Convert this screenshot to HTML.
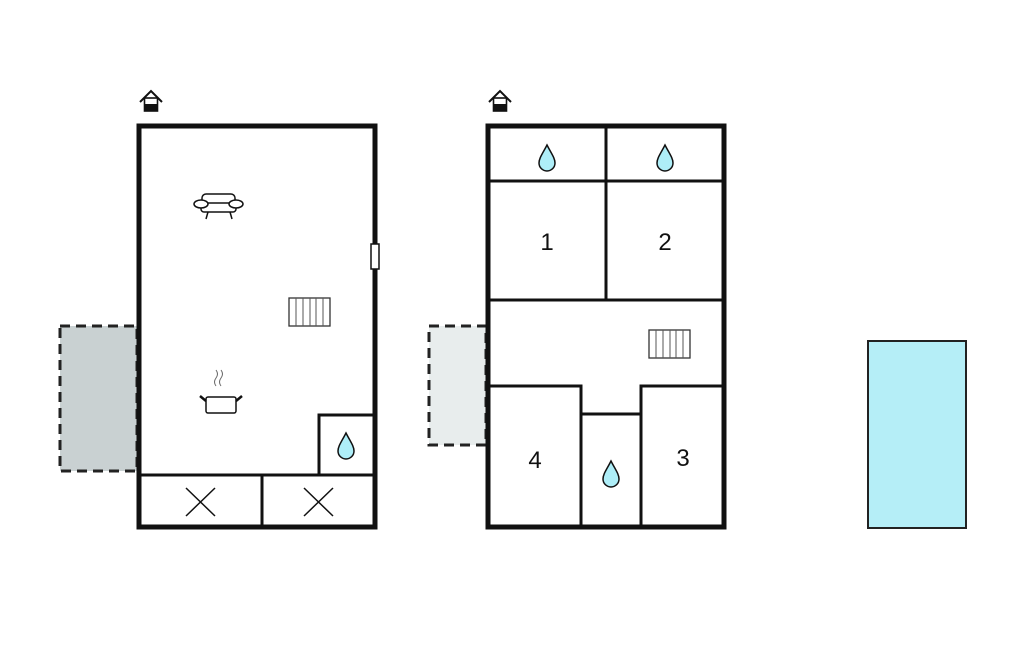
<!DOCTYPE html>
<html><head><style>html,body{margin:0;padding:0;background:#fff;}svg{display:block}</style></head>
<body>
<svg width="1024" height="652" viewBox="0 0 1024 652" xmlns="http://www.w3.org/2000/svg" font-family="Liberation Sans, sans-serif">
<defs>
<g id="drop"><path d="M0,-13 C4,-5 8,0 8,5 A8,8 0 0 1 -8,5 C-8,0 -4,-5 0,-13 Z" fill="#aeeef8" stroke="#111" stroke-width="1.5"/></g>
<g id="house"><path d="M-11,3 L0,-8 L11,3" fill="none" stroke="#111" stroke-width="2"/><rect x="-6.5" y="-1" width="13" height="13" fill="#fff" stroke="#111" stroke-width="1.6"/><rect x="-6.5" y="5" width="13" height="7" fill="#111"/></g>
<g id="rad"><rect x="0" y="0" width="41" height="28" fill="#fff" stroke="#333" stroke-width="1.3"/><path d="M7,0V28M14,0V28M21,0V28M27,0V28M34,0V28" stroke="#555" stroke-width="1"/></g>
</defs>
<rect x="60" y="326" width="77" height="145" fill="#c9d1d2" stroke="#222" stroke-width="3" stroke-dasharray="10,6"/>
<rect x="139" y="126" width="236" height="401" fill="#fff" stroke="#111" stroke-width="5"/>
<line x1="139" y1="475" x2="375" y2="475" stroke="#111" stroke-width="3"/>
<line x1="262" y1="475" x2="262" y2="527" stroke="#111" stroke-width="3"/>
<path d="M375,415 H319 V475" fill="none" stroke="#111" stroke-width="3"/>
<path d="M186,488 L215,516 M215,488 L186,516 M304,488 L333,516 M333,488 L304,516" stroke="#111" stroke-width="1.5"/>
<rect x="371" y="244" width="8" height="25" fill="#fff" stroke="#111" stroke-width="1.5"/>
<use href="#house" x="151" y="99"/>
<use href="#drop" x="346" y="446"/>
<use href="#rad" x="289" y="298"/>
<g fill="#fff" stroke="#111" stroke-width="1.5">
<rect x="202" y="194" width="33" height="12" rx="4"/>
<rect x="201" y="203" width="35" height="9" rx="3"/>
<ellipse cx="201" cy="204" rx="7" ry="4"/><ellipse cx="236" cy="204" rx="7" ry="4"/>
<path d="M208,212 L206,219 M230,212 L232,219" fill="none"/>
</g>
<g stroke="#111" fill="#fff" stroke-width="1.5">
<rect x="206" y="397" width="30" height="16" rx="2"/>
<path d="M206,401 L200,396 M236,401 L242,396" stroke-width="2.5"/>
<path d="M216,386 q-3,-4 0,-8 q3,-4 0,-8 M221,386 q-3,-4 0,-8 q3,-4 0,-8" fill="none" stroke="#666" stroke-width="1"/>
</g>
<rect x="429" y="326" width="57" height="119" fill="#e8eded" stroke="#222" stroke-width="3" stroke-dasharray="10,6"/>
<rect x="488" y="126" width="236" height="401" fill="#fff" stroke="#111" stroke-width="5"/>
<g stroke="#111" stroke-width="3" fill="none">
<line x1="488" y1="181" x2="724" y2="181"/>
<line x1="488" y1="300" x2="724" y2="300"/>
<line x1="606" y1="126" x2="606" y2="300"/>
<path d="M488,386 H581 V527"/>
<path d="M581,414 H641"/>
<path d="M724,386 H641 V527"/>
</g>
<use href="#house" x="500" y="99"/>
<use href="#drop" x="547" y="158"/>
<use href="#drop" x="665" y="158"/>
<use href="#drop" x="611" y="474"/>
<use href="#rad" x="649" y="330"/>
<g font-size="24" fill="#111" text-anchor="middle">
<text x="547" y="250">1</text>
<text x="665" y="250">2</text>
<text x="535" y="468">4</text>
<text x="683" y="466">3</text>
</g>
<rect x="868" y="341" width="98" height="187" fill="#b5eef7" stroke="#222" stroke-width="2"/>
</svg>
</body></html>
